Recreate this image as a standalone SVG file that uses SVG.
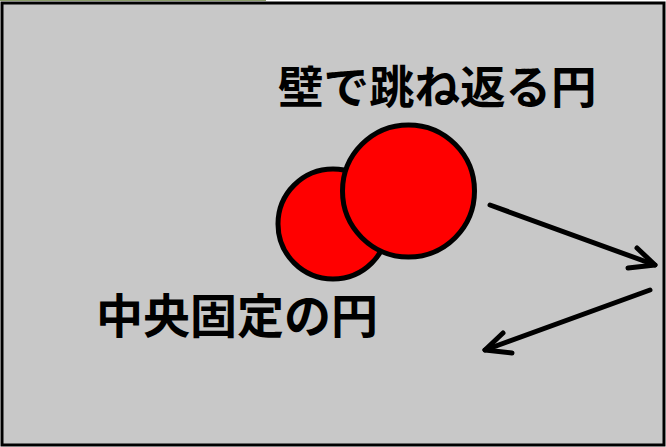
<svg xmlns="http://www.w3.org/2000/svg" width="666" height="447" viewBox="0 0 666 447">
<defs>
<style>
.lbl{font-family:"Noto Sans CJK JP","Noto Sans",sans-serif;font-weight:bold;fill:#000}
.ball{fill:#ff0000;stroke:#000;stroke-width:5}
.arr{fill:none;stroke:#000;stroke-width:5;stroke-linecap:round;stroke-linejoin:round}
</style>
</defs>
<rect x="0" y="0" width="666" height="447" fill="#ffffff"/>
<line x1="0" y1="0.5" x2="266" y2="0.5" stroke="#8a9a6a" stroke-width="1"/>
<rect id="frame" x="2" y="3" width="662" height="442" fill="#c8c8c8" stroke="#000" stroke-width="3"/>
<g id="center-circle">
<circle class="ball" cx="333" cy="224" r="55"/>
</g>
<g id="bouncing-circle">
<circle class="ball" cx="408.5" cy="191" r="66"/>
</g>
<g id="label-bouncing">
<text class="lbl" x="278" y="104" font-size="45.5">壁で跳ね返る円</text>
</g>
<g id="label-center">
<text class="lbl" x="96" y="333" font-size="47">中央固定の円</text>
</g>
<g id="connectors">
<polyline class="arr" points="490,205 655,265"/>
<polyline class="arr" points="628,268 655,265 637,248"/>
<polyline class="arr" points="650,290 485,350"/>
<polyline class="arr" points="503,333 485,350 512,353"/>
</g>
</svg>
